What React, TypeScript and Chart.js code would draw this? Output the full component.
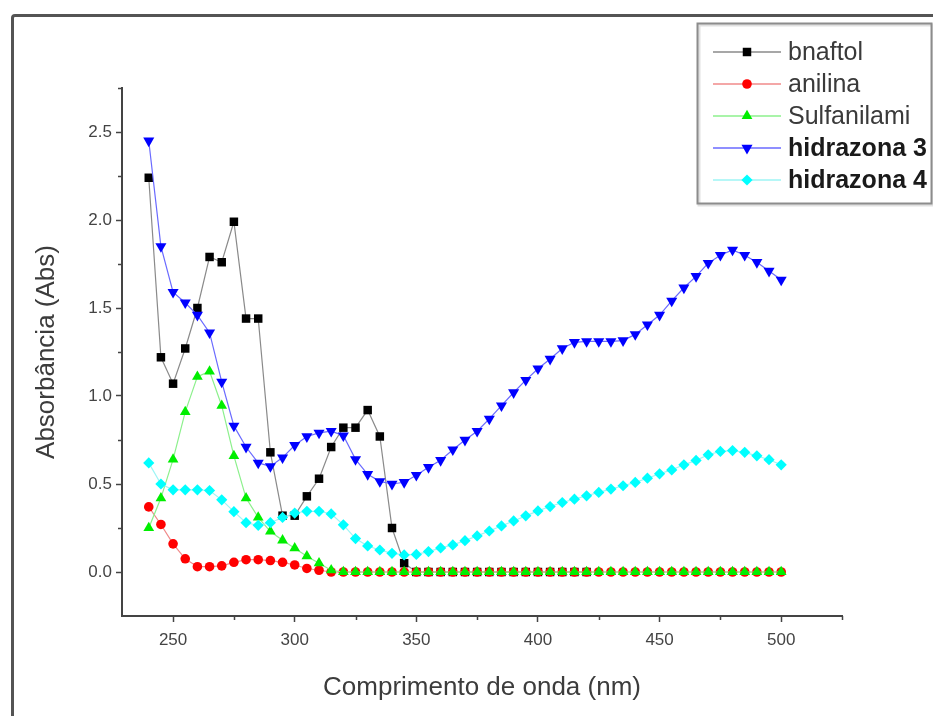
import React, { useEffect, useRef } from 'react';
import { Chart, registerables } from 'chart.js';

Chart.register(...registerables);

const FONT = "'Liberation Sans', Arial, Helvetica, sans-serif";

// Wavelength (nm)
const wavelengths = [
  240, 245, 250, 255, 260, 265, 270, 275, 280, 285,
  290, 295, 300, 305, 310, 315, 320, 325, 330, 335,
  340, 345, 350, 355, 360, 365, 370, 375, 380, 385,
  390, 395, 400, 405, 410, 415, 420, 425, 430, 435,
  440, 445, 450, 455, 460, 465, 470, 475, 480, 485,
  490, 495, 500,
];

const bnaftol = [
  2.24, 1.22, 1.07, 1.27, 1.5, 1.79, 1.76, 1.99, 1.44, 1.44,
  0.68, 0.32, 0.32, 0.43, 0.53, 0.71, 0.82, 0.82, 0.92, 0.77,
  0.25, 0.05, 0.0, 0.0, 0.0, 0.0, 0.0, 0.0, 0.0, 0.0,
  0.0, 0.0, 0.0, 0.0, 0.0, 0.0, 0.0,
];

const anilina = [
  0.37, 0.27, 0.16, 0.075, 0.03, 0.03, 0.035, 0.055, 0.07, 0.07,
  0.065, 0.055, 0.04, 0.02, 0.01, 0.0, 0.0, 0.0, 0.0, 0.0,
  0.0, 0.0, 0.0, 0.0, 0.0, 0.0, 0.0, 0.0, 0.0, 0.0,
  0.0, 0.0, 0.0, 0.0, 0.0, 0.0, 0.0, 0.0, 0.0, 0.0,
  0.0, 0.0, 0.0, 0.0, 0.0, 0.0, 0.0, 0.0, 0.0, 0.0,
  0.0, 0.0, 0.0,
];

const sulfanilami = [
  0.25, 0.42, 0.64, 0.91, 1.11, 1.14, 0.945, 0.66, 0.42, 0.31,
  0.23, 0.18, 0.135, 0.09, 0.05, 0.01, 0.0, 0.0, 0.0, 0.0,
  0.0, 0.0, 0.0, 0.0, 0.0, 0.0, 0.0, 0.0, 0.0, 0.0,
  0.0, 0.0, 0.0, 0.0, 0.0, 0.0, 0.0, 0.0, 0.0, 0.0,
  0.0, 0.0, 0.0, 0.0, 0.0, 0.0, 0.0, 0.0, 0.0, 0.0,
  0.0, 0.0, 0.0,
];

const hidrazona3 = [
  2.45, 1.85, 1.59, 1.53, 1.46, 1.36, 1.08, 0.83, 0.71, 0.62,
  0.6, 0.65, 0.72, 0.77, 0.79, 0.8, 0.775, 0.64, 0.555, 0.515,
  0.5, 0.51, 0.55, 0.595, 0.635, 0.695, 0.75, 0.8, 0.87, 0.945,
  1.02, 1.09, 1.155, 1.21, 1.27, 1.305, 1.31, 1.31, 1.31, 1.315,
  1.35, 1.405, 1.46, 1.54, 1.615, 1.68, 1.755, 1.8, 1.83, 1.8,
  1.76, 1.71, 1.66,
];

const hidrazona4 = [
  0.62, 0.5, 0.467, 0.467, 0.467, 0.463, 0.41, 0.343, 0.28, 0.265,
  0.28, 0.31, 0.335, 0.345, 0.345, 0.33, 0.268, 0.19, 0.148, 0.125,
  0.106, 0.097, 0.1, 0.116, 0.137, 0.154, 0.178, 0.205, 0.233, 0.262,
  0.29, 0.319, 0.347, 0.372, 0.395, 0.414, 0.433, 0.452, 0.471, 0.49,
  0.509, 0.533, 0.558, 0.58, 0.609, 0.634, 0.666, 0.685, 0.69, 0.68,
  0.66, 0.638, 0.609,
];

const seriesNames = ['bnaftol', 'anilina', 'Sulfanilami', 'hidrazona 3', 'hidrazona 4'];
const seriesValues = [bnaftol, anilina, sulfanilami, hidrazona3, hidrazona4];
const markerColors = ['#000000', '#ff0000', '#00ee00', '#0000ff', '#00ffff'];
const lineColors = ['#8a8a8a', '#f08a8a', '#8cf08c', '#6a6aff', '#9ef5f5'];
const pointStyles = ['rect', 'circle', 'triangle', 'triangle', 'rectRot'];
const pointRotations = [0, 0, 0, 180, 0];
const pointRadii = [6, 4.8, 6.2, 6.4, 5.6];
const boldLegend = [false, false, false, true, true];

const xTitle = 'Comprimento de onda (nm)';
const yTitle = 'Absorbância (Abs)';
const xMin = 229;
const xMax = 525;
const xStep = 25;
const yMin = -0.25;
const yMax = 2.75;
const yStep = 0.25;

const isMajorX = (v: number) => Math.abs(v % 50) < 1e-6;
const isMajorY = (v: number) => Math.abs(v * 2 - Math.round(v * 2)) < 1e-6 && v > -0.01;

function drawMarker(ctx: CanvasRenderingContext2D, style: string, rot: number, x: number, y: number, r: number) {
  ctx.beginPath();
  if (style === 'rect') {
    const s = r * Math.SQRT1_2;
    ctx.rect(x - s, y - s, 2 * s, 2 * s);
  } else if (style === 'circle') {
    ctx.arc(x, y, r, 0, Math.PI * 2);
  } else if (style === 'triangle') {
    let a = (rot * Math.PI) / 180;
    ctx.moveTo(x + Math.sin(a) * r, y - Math.cos(a) * r);
    a += (2 * Math.PI) / 3;
    ctx.lineTo(x + Math.sin(a) * r, y - Math.cos(a) * r);
    a += (2 * Math.PI) / 3;
    ctx.lineTo(x + Math.sin(a) * r, y - Math.cos(a) * r);
    ctx.closePath();
  } else {
    ctx.moveTo(x - r, y);
    ctx.lineTo(x, y - r);
    ctx.lineTo(x + r, y);
    ctx.lineTo(x, y + r);
    ctx.closePath();
  }
  ctx.fill();
}

const framePlugin = {
  id: 'frameAndExtras',
  beforeDraw(chart: any) {
    const ctx = chart.ctx as CanvasRenderingContext2D;
    ctx.save();
    ctx.fillStyle = '#ffffff';
    ctx.fillRect(0, 0, chart.width, chart.height);
    ctx.strokeStyle = '#545454';
    ctx.lineWidth = 3;
    ctx.beginPath();
    ctx.moveTo(12.5, chart.height + 10);
    ctx.lineTo(12.5, 18);
    ctx.quadraticCurveTo(12.5, 15.5, 15, 15.5);
    ctx.lineTo(chart.width + 10, 15.5);
    ctx.stroke();
    ctx.restore();
  },
  afterDraw(chart: any) {
    const ctx = chart.ctx as CanvasRenderingContext2D;
    const area = chart.chartArea;
    const xs = chart.scales.x;
    const ys = chart.scales.y;
    ctx.save();
    // minor ticks
    ctx.strokeStyle = '#444444';
    ctx.lineWidth = 1.5;
    ctx.beginPath();
    xs.ticks.forEach((t: any) => {
      if (!isMajorX(t.value)) {
        const px = Math.round(xs.getPixelForValue(t.value)) + 0.5;
        ctx.moveTo(px, area.bottom);
        ctx.lineTo(px, area.bottom + 4);
      }
    });
    ys.ticks.forEach((t: any) => {
      if (!isMajorY(t.value) && t.value > yMin + 1e-6) {
        const py = Math.round(ys.getPixelForValue(t.value)) + 0.5;
        ctx.moveTo(area.left - 4, py);
        ctx.lineTo(area.left, py);
      }
    });
    ctx.stroke();

    // legend box
    const bx = 697.5, by = 23.5, bw = 234, bh = 180;
    ctx.fillStyle = '#ffffff';
    ctx.fillRect(bx, by, bw, bh);
    ctx.strokeStyle = 'rgba(0,0,0,0.12)';
    ctx.lineWidth = 3;
    ctx.strokeRect(bx + 1.5, by + 1.5, bw, bh);
    ctx.strokeStyle = '#8c8c8c';
    ctx.lineWidth = 2;
    ctx.strokeRect(bx, by, bw, bh);

    seriesNames.forEach((name, i) => {
      const y = 52 + i * 32;
      ctx.strokeStyle = lineColors[i];
      ctx.lineWidth = 1.5;
      ctx.beginPath();
      ctx.moveTo(713, y);
      ctx.lineTo(781, y);
      ctx.stroke();
      ctx.fillStyle = markerColors[i];
      drawMarker(ctx, pointStyles[i], pointRotations[i], 747, y, pointRadii[i]);
      ctx.fillStyle = boldLegend[i] ? '#1a1a1a' : '#3a3a3a';
      ctx.font = `${boldLegend[i] ? 'bold ' : ''}25px ${FONT}`;
      ctx.textBaseline = 'middle';
      ctx.textAlign = 'left';
      ctx.fillText(name, 788, y + 1);
    });
    ctx.restore();
  },
};

export default function App() {
  const ref = useRef<HTMLCanvasElement | null>(null);

  useEffect(() => {
    if (!ref.current) return;
    const datasets = seriesNames.map((name, i) => ({
      label: name,
      data: seriesValues[i].map((v, j) => ({ x: wavelengths[j], y: v })),
      borderColor: lineColors[i],
      backgroundColor: markerColors[i],
      borderWidth: 1.2,
      pointStyle: pointStyles[i],
      pointRotation: pointRotations[i],
      pointRadius: pointRadii[i],
      pointBorderWidth: 0,
      pointBackgroundColor: markerColors[i],
      pointBorderColor: markerColors[i],
      tension: 0,
      fill: false,
      order: 5 - i,
    }));

    const chart = new Chart(ref.current, {
      type: 'line',
      data: { datasets },
      plugins: [framePlugin],
      options: {
        animation: false,
        responsive: false,
        devicePixelRatio: 1,
        events: [],
        layout: { padding: { left: 0, top: 88, right: 91, bottom: 0 } },
        plugins: {
          legend: { display: false },
          tooltip: { enabled: false },
          title: { display: false },
        },
        scales: {
          x: {
            type: 'linear',
            min: xMin,
            max: xMax,
            afterFit: (s: any) => {
              s.height = 100;
            },
            border: { display: true, color: '#444444', width: 2 },
            grid: {
              display: true,
              drawOnChartArea: false,
              drawTicks: true,
              tickLength: 6,
              tickWidth: 1.5,
              tickColor: (c: any) => (c.tick && isMajorX(c.tick.value) ? '#444444' : 'rgba(0,0,0,0)'),
            },
            ticks: {
              stepSize: xStep,
              includeBounds: false,
              autoSkip: false,
              maxRotation: 0,
              padding: 8,
              color: '#444444',
              font: { family: FONT, size: 17 },
              callback: (v: any) => (isMajorX(Number(v)) ? String(v) : ''),
            },
            title: {
              display: true,
              text: xTitle,
              color: '#3c3c3c',
              font: { family: FONT, size: 26 },
              padding: { top: 0, bottom: 13 },
            },
          },
          y: {
            type: 'linear',
            min: yMin,
            max: yMax,
            afterFit: (s: any) => {
              s.width = 122;
            },
            border: { display: true, color: '#444444', width: 2 },
            grid: {
              display: true,
              drawOnChartArea: false,
              drawTicks: true,
              tickLength: 6,
              tickWidth: 1.5,
              tickColor: (c: any) => (c.tick && isMajorY(c.tick.value) ? '#444444' : 'rgba(0,0,0,0)'),
            },
            ticks: {
              stepSize: yStep,
              autoSkip: false,
              padding: 4,
              color: '#444444',
              font: { family: FONT, size: 17 },
              callback: (v: any) => (isMajorY(Number(v)) ? Number(v).toFixed(1) : ''),
            },
            title: {
              display: true,
              text: yTitle,
              color: '#3c3c3c',
              font: { family: FONT, size: 26 },
              padding: { top: 31, bottom: 0 },
            },
          },
        },
      },
    });
    return () => chart.destroy();
  }, []);

  return (
    <canvas
      ref={ref}
      width={933}
      height={716}
      style={{ position: 'fixed', left: 0, top: 0, width: '933px', height: '716px' }}
    />
  );
}
